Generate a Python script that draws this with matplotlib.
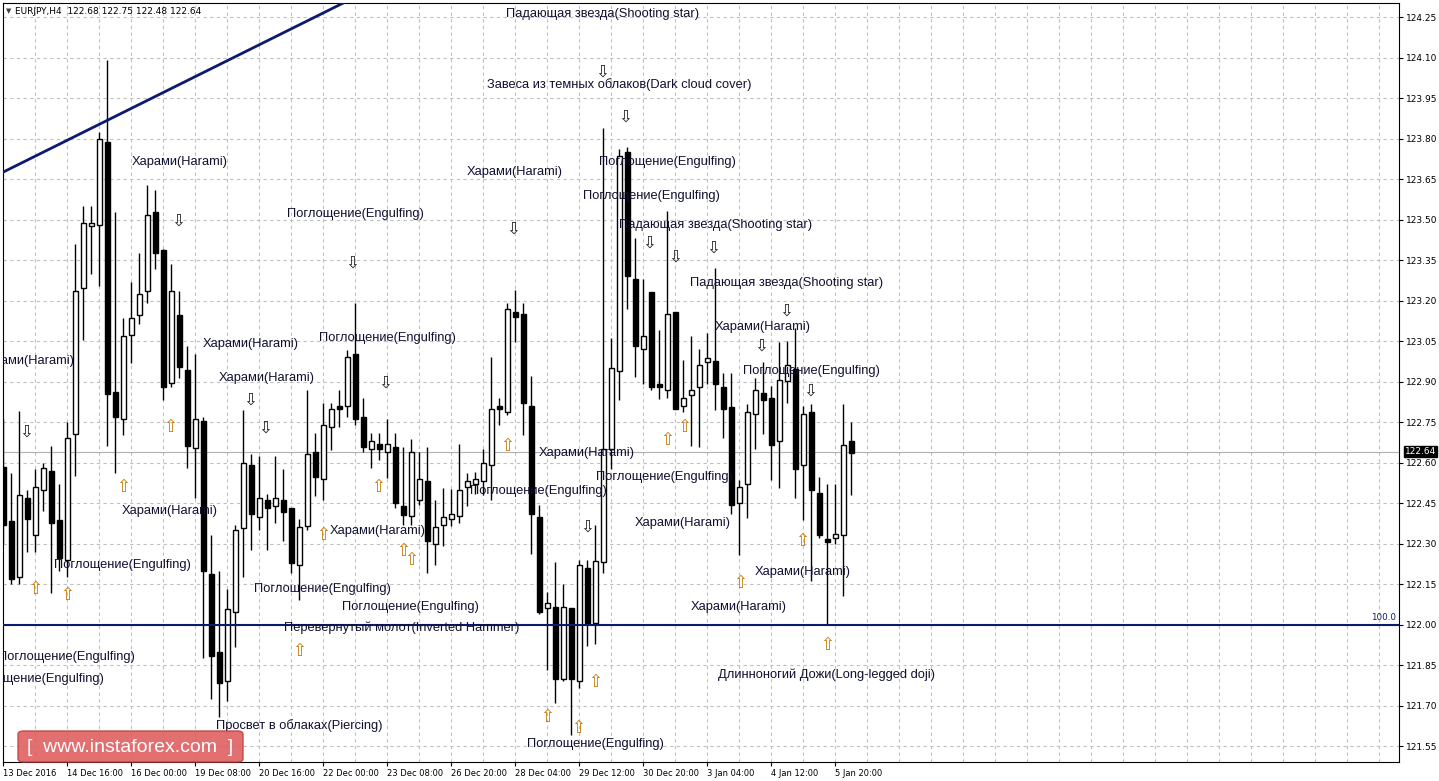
import matplotlib
matplotlib.use("Agg")
import matplotlib.pyplot as plt
from matplotlib.patches import FancyBboxPatch
import numpy as np

opens = [122.583,122.383,122.178,122.467,122.333,122.50,122.57,122.388,122.238,122.705,
 123.245,123.475,123.478,123.788,122.863,122.762,123.073,123.145,123.237,123.528,
 123.387,122.895,123.145,122.942,122.653,122.753,122.188,121.90,121.792,122.045,
 122.358,122.592,122.40,122.462,122.438,122.462,122.433,122.22,122.366,122.638,
 122.538,122.73,122.809,122.809,123.002,122.767,122.649,122.668,122.638,122.659,
 122.439,122.402,122.461,122.531,122.298,122.369,122.39,122.402,122.508,122.519,
 122.531,122.591,122.809,122.788,123.159,123.149,122.809,122.40,122.063,122.066,
 121.798,122.06,121.79,122.208,122.007,122.232,122.65,122.939,123.75,123.279,
 123.02,123.231,122.891,122.87,123.159,122.81,122.851,122.88,122.971,122.976,
 122.88,122.805,122.449,122.521,122.781,122.859,122.838,122.679,122.902,122.947,
 122.59,122.789,122.489,122.317,122.32,122.332,122.679]
closes = [122.367,122.167,122.478,122.392,122.508,122.58,122.378,122.245,122.692,123.237,
 123.487,123.487,123.80,122.853,122.77,123.067,123.137,123.225,123.517,123.375,
 122.88,123.237,122.953,122.663,122.762,122.20,121.883,121.783,122.058,122.35,
 122.60,122.408,122.467,122.433,122.47,122.417,122.229,122.36,122.63,122.548,
 122.739,122.797,122.797,122.99,122.76,122.659,122.68,122.649,122.668,122.449,
 122.406,122.638,122.538,122.309,122.362,122.40,122.41,122.50,122.531,122.538,
 122.597,122.797,122.797,123.167,123.138,122.819,122.408,122.047,122.079,121.798,
 122.066,121.798,122.219,122.007,122.237,122.65,122.95,123.737,123.292,123.03,
 123.067,122.878,122.878,123.151,122.797,122.838,122.867,122.96,122.987,122.891,
 122.797,122.441,122.508,122.789,122.867,122.831,122.666,122.907,122.96,122.577,
 122.778,122.5,122.331,122.307,122.336,122.666,122.637]
highs = [122.76,122.56,122.79,122.50,122.575,122.60,122.663,122.52,122.75,123.408,
 123.55,123.55,123.825,124.09,123.528,123.137,123.267,123.375,123.628,123.608,
 123.39,123.337,123.237,123.033,123.003,122.77,122.33,122.20,122.133,122.367,
 122.795,122.633,122.625,122.483,122.625,122.575,122.433,122.39,122.868,122.71,
 122.819,122.82,122.868,123.017,123.19,122.838,122.71,122.71,122.761,122.71,
 122.659,122.689,122.638,122.659,122.461,122.504,122.502,122.668,122.56,122.566,
 122.649,122.992,122.838,123.192,123.239,123.19,122.92,122.441,122.119,122.232,
 122.152,122.063,122.24,122.24,122.369,123.839,123.063,123.763,123.77,123.432,
 123.279,123.231,123.091,123.533,123.159,122.979,123.067,123.019,123.079,123.32,
 122.931,122.931,122.537,122.818,122.915,122.971,122.883,123.047,123.051,123.1,
 122.81,122.818,122.548,122.521,122.521,122.818,122.75]
lows = [122.30,122.15,122.15,122.27,122.267,122.42,122.117,122.20,122.175,122.55,
 123.053,123.30,123.255,122.663,122.56,122.703,122.97,123.112,123.192,123.317,
 122.83,122.88,122.913,122.58,122.467,121.875,121.725,121.658,121.717,121.917,
 122.175,122.275,122.35,122.275,122.375,122.308,122.19,122.09,122.35,122.477,
 122.461,122.646,122.73,122.767,122.739,122.638,122.578,122.609,122.541,122.43,
 122.369,122.369,122.443,122.19,122.22,122.29,122.365,122.377,122.439,122.482,
 122.48,122.461,122.739,122.776,123.047,122.702,122.261,122.039,121.83,121.71,
 121.79,121.59,121.766,121.919,121.927,122.192,122.577,122.831,123.167,122.918,
 122.891,122.867,122.834,122.838,122.797,122.789,122.661,122.658,122.891,122.794,
 122.69,122.409,122.259,122.393,122.65,122.706,122.537,122.505,122.82,122.468,
 122.388,122.16,122.32,122.002,122.30,122.107,122.48]

date_labels = ["13 Dec 2016","14 Dec 16:00","16 Dec 00:00","19 Dec 08:00","20 Dec 16:00",
 "22 Dec 00:00","23 Dec 08:00","26 Dec 20:00","28 Dec 04:00","29 Dec 12:00",
 "30 Dec 20:00","3 Jan 04:00","4 Jan 12:00","5 Jan 20:00"]
price_ticks = [124.25,124.10,123.95,123.80,123.65,123.50,123.35,123.20,123.05,122.90,
 122.75,122.60,122.45,122.30,122.15,122.00,121.85,121.70,121.55]
level_price = 122.00
last_price = 122.64
trend_x = [0, 42.5]
trend_y = [123.676, 124.302]

labels = [
 ("Падающая звезда(Shooting star)",603,14),("Завеса из темных облаков(Dark cloud cover)",619,85),
 ("Харами(Harami)",180,162),("Харами(Harami)",515,172),("Поглощение(Engulfing)",667,162),
 ("Поглощение(Engulfing)",651,196),("Падающая звезда(Shooting star)",716,225),
 ("Поглощение(Engulfing)",355,214),("Падающая звезда(Shooting star)",787,283),
 ("Харами(Harami)",763,327),("Поглощение(Engulfing)",387,338),("Харами(Harami)",251,344),
 ("Харами(Harami)",27,361),("Поглощение(Engulfing)",811,371),("Харами(Harami)",267,378),
 ("Харами(Harami)",587,453),("Поглощение(Engulfing)",538,491),("Поглощение(Engulfing)",664,477),
 ("Харами(Harami)",170,511),("Харами(Harami)",378,531),("Харами(Harami)",683,523),
 ("Поглощение(Engulfing)",122,565),("Харами(Harami)",803,572),("Поглощение(Engulfing)",322,589),
 ("Поглощение(Engulfing)",410,607),("Харами(Harami)",739,607),
 ("Перевернутый молот(Inverted Hammer)",402,628),("Поглощение(Engulfing)",66,657),
 ("Поглощение(Engulfing)",35,679),("Длинноногий Дожи(Long-legged doji)",827,675),
 ("Просвет в облаках(Piercing)",299,726),("Поглощение(Engulfing)",595,744)]
down_arrows = [(26,432),(178,221),(250,400),(265,428),(352,263),(385,383),(513,229),(602,72),
 (625,117),(649,243),(675,257),(713,248),(761,346),(786,311),(810,391),(587,527)]
up_arrows = [(35,589),(67,595),(123,487),(170,427),(299,651),(323,535),(378,487),(403,551),
 (411,560),(507,446),(547,717),(578,728),(595,682),(667,440),(684,427),(740,583),(802,541),
 (827,645)]

W, H = 1439, 781
fig = plt.figure(figsize=(W/100, H/100), dpi=100)
fig.patch.set_facecolor("white")
L, R, T, B = 3, 1399, 3, 762
ax = fig.add_axes([L/W, 1-B/H, (R-L)/W, (B-T)/H])
x0, x1 = -0.04, 174.5
y0, y1 = 121.491, 124.302
ax.set_xlim(x0, x1); ax.set_ylim(y0, y1)

def px2data(px, py):
    return x0 + (px-L)/(R-L)*(x1-x0), y1 - (py-T)/(B-T)*(y1-y0)

for gx in np.arange(0, 175, 4):
    ax.axvline(gx, color="#c0c0c0", ls=(0,(3,3)), lw=0.8, zorder=0)
for p in price_ticks:
    ax.axhline(p, color="#c0c0c0", ls=(0,(3,3)), lw=0.8, zorder=0)

n = len(opens)
for i in range(n):
    o, c, h, l = opens[i], closes[i], highs[i], lows[i]
    ax.plot([i, i], [l, h], color="black", lw=1, zorder=2, solid_capstyle="butt")
    bot, top = min(o, c), max(o, c)
    ax.bar(i, max(top-bot, 0.004), bottom=bot, width=0.62,
           color="white" if c >= o else "black", edgecolor="black", lw=1, zorder=3)

ax.plot(trend_x, trend_y, color="#0c1a6e", lw=2, zorder=4)
ax.axhline(level_price, color="#0c1a6e", lw=1.5, zorder=4)
ax.axhline(last_price, color="#b0b0b0", lw=0.8, zorder=1)
ax.text(x1-0.4, level_price+0.01, "100.0", color="#0c1a6e", fontsize=6.3,
        ha="right", va="bottom", family="DejaVu Sans")

for t, px, py in labels:
    dx, dy = px2data(px, py)
    ax.text(dx, dy, t, ha="center", va="center", fontsize=9.3, color="#101030",
            family="Liberation Sans", zorder=5, clip_on=True)
for px, py in down_arrows:
    dx, dy = px2data(px, py)
    ax.text(dx, dy, "⇩", ha="center", va="center", fontsize=12, color="#202020",
            family="DejaVu Sans", zorder=5)
for px, py in up_arrows:
    dx, dy = px2data(px, py)
    ax.text(dx, dy, "⇧", ha="center", va="center", fontsize=12, color="#c87800",
            family="DejaVu Sans", zorder=5)

ax.yaxis.tick_right()
ax.set_yticks(price_ticks)
ax.set_yticklabels([f"{p:.2f}" for p in price_ticks], fontsize=6.5, family="DejaVu Sans")
ax.set_xticks(np.arange(0, 8*len(date_labels), 8))
ax.set_xticklabels(date_labels, fontsize=6.0, family="DejaVu Sans", ha="left")
ax.tick_params(axis="both", length=3, width=0.8, pad=2)
for s in ax.spines.values():
    s.set_color("black"); s.set_linewidth(0.8)

ax.text(1.004, (last_price-y0)/(y1-y0), f"{last_price:.2f}", transform=ax.transAxes,
        fontsize=6.5, color="white", ha="left", va="center", family="DejaVu Sans",
        bbox=dict(boxstyle="square,pad=0.1", fc="black", ec="black"), zorder=10)

fig.text(15/W, 1-11/H, "EURJPY,H4  122.68 122.75 122.48 122.64", fontsize=6.5,
         va="center", family="DejaVu Sans")
fig.text(6/W, 1-11/H, "▼", fontsize=5, va="center", color="#404040")

wm = FancyBboxPatch((18/W, 1-762/H), 225/W, 31/H, boxstyle="round,pad=0,rounding_size=0.004",
                    transform=fig.transFigure, fc="#e06060", ec="#c04040", alpha=0.9, zorder=20)
fig.patches.append(wm)
fig.text(130/W, 1-747/H, "[  www.instaforex.com  ]", fontsize=14, color="white",
         ha="center", va="center", family="Liberation Sans", zorder=21)

fig.savefig("out.png", dpi=100)
